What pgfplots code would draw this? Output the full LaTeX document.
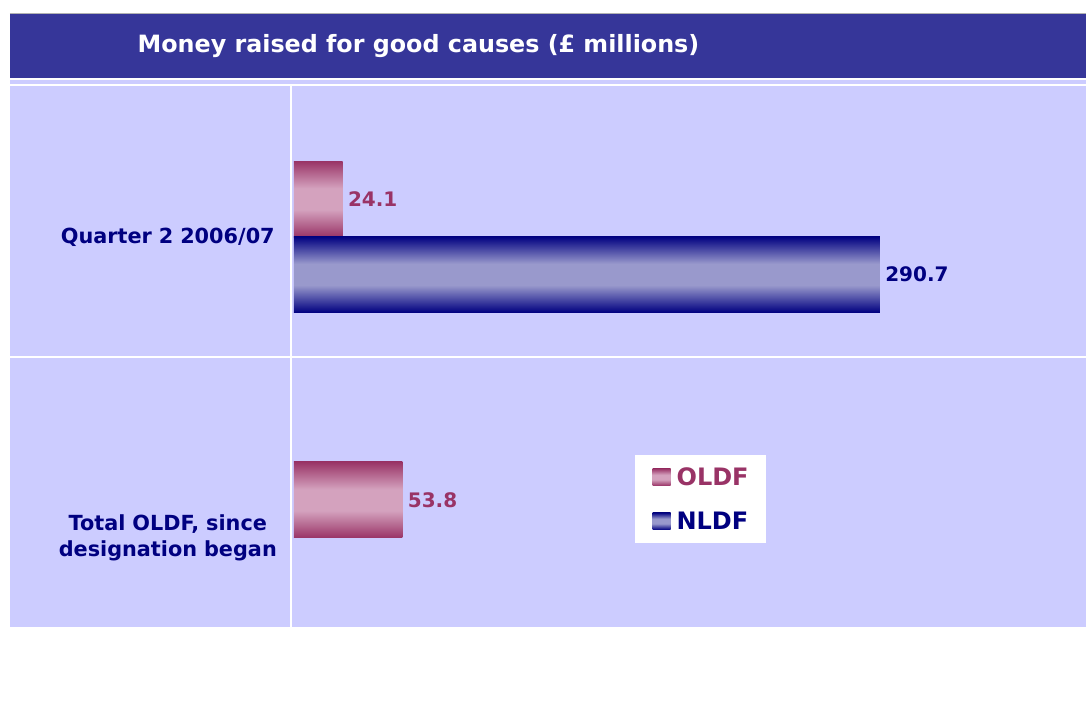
\documentclass[border=0pt]{standalone}
\usepackage{pgfplots}
\pgfplotsset{compat=1.18}
\usepackage{fontspec}
\setmainfont{DejaVu Sans}
\definecolor{banner}{HTML}{363699}
\definecolor{panel}{HTML}{CCCCFF}
\definecolor{oldf}{HTML}{993366}
\definecolor{oldflight}{HTML}{D4A2BE}
\definecolor{nldf}{HTML}{000080}
\definecolor{nldflight}{HTML}{9999CC}
\pgfdeclareverticalshading{oldfsh}{100bp}{color(0bp)=(oldf); color(25bp)=(oldf); color(43bp)=(oldflight); color(57bp)=(oldflight); color(75bp)=(oldf); color(100bp)=(oldf)}
\pgfdeclareverticalshading{nldfsh}{100bp}{color(0bp)=(nldf); color(25bp)=(nldf); color(43bp)=(nldflight); color(57bp)=(nldflight); color(75bp)=(nldf); color(100bp)=(nldf)}
\begin{document}
\begin{tikzpicture}
\begin{scope}[x=1bp,y=-1bp]
\useasboundingbox (0,0) rectangle (1086,724);
\fill[white] (0,0) rectangle (1086,724);
\fill[banner] (10,13) rectangle (1086,78);
\draw[black!30, line width=1bp] (10,13.5) -- (1086,13.5);
\fill[panel] (10,80) rectangle (1086,627);
\fill[white] (10,84.5) rectangle (1086,86.5);
\fill[white] (10,356) rectangle (1086,358);
\fill[white] (290,86) rectangle (292.5,627);
\node[text=white, font=\fontsize{23.8bp}{28bp}\selectfont\bfseries] at (418.5,46) {Money raised for good causes (£ millions)};
\end{scope}
\begin{axis}[
  at={(294bp,-627bp)}, anchor=south west,
  scale only axis, width=792bp, height=541bp,
  xmin=0, xmax=393, ymin=-0.50166, ymax=1.29568,
  y dir=reverse,
  axis line style={draw=none},
  xtick=\empty,
  ytick={0,1},
  yticklabels={Quarter 2 2006/07,{Total OLDF, since\\designation began}},
  major tick length=0pt,
  yticklabel style={font=\fontsize{20.8bp}{25.5bp}\selectfont\bfseries, text=nldf, inner sep=0pt, text width=240bp, align=center, xshift=-6bp},
  clip=false,
  point meta=explicit symbolic,
  nodes near coords,
  nodes near coords style={font=\fontsize{20bp}{24bp}\selectfont\bfseries, anchor=west, xshift=2bp},
  legend style={at={(axis cs:169.2,0.7243)}, anchor=north west, draw=none, fill=white,
    inner xsep=17.5bp, inner ysep=0pt, row sep=0pt, column sep=6bp,
    font=\fontsize{24bp}{28bp}\selectfont\bfseries,
    nodes={inner sep=0pt, text height=30.75bp, text depth=13.25bp}},
  legend cell align=left,
]
\addplot[xbar, bar width=0.2525, bar shift=0pt, draw=none, shade, shading=oldfsh,
  every node near coord/.append style={text=oldf},
  legend image code/.code={\shade[shading=oldfsh] (0bp,-8.5bp) rectangle (18bp,8.5bp);}]
  coordinates {(24.1,-0.1262) [24.1]};
\addlegendentry{\textcolor{oldf}{OLDF}}
\addplot[xbar, bar width=0.2525, bar shift=0pt, draw=none, shade, shading=nldfsh,
  every node near coord/.append style={text=nldf},
  legend image code/.code={\shade[shading=nldfsh] (0bp,-8.5bp) rectangle (18bp,8.5bp);}]
  coordinates {(290.7,0.1246) [290.7]};
\addlegendentry{\textcolor{nldf}{NLDF}}
\addplot[xbar, bar width=0.2525, bar shift=0pt, draw=none, forget plot, shade, shading=oldfsh,
  every node near coord/.append style={text=oldf}]
  coordinates {(53.8,0.8738) [53.8]};
\end{axis}
\end{tikzpicture}
\end{document}
